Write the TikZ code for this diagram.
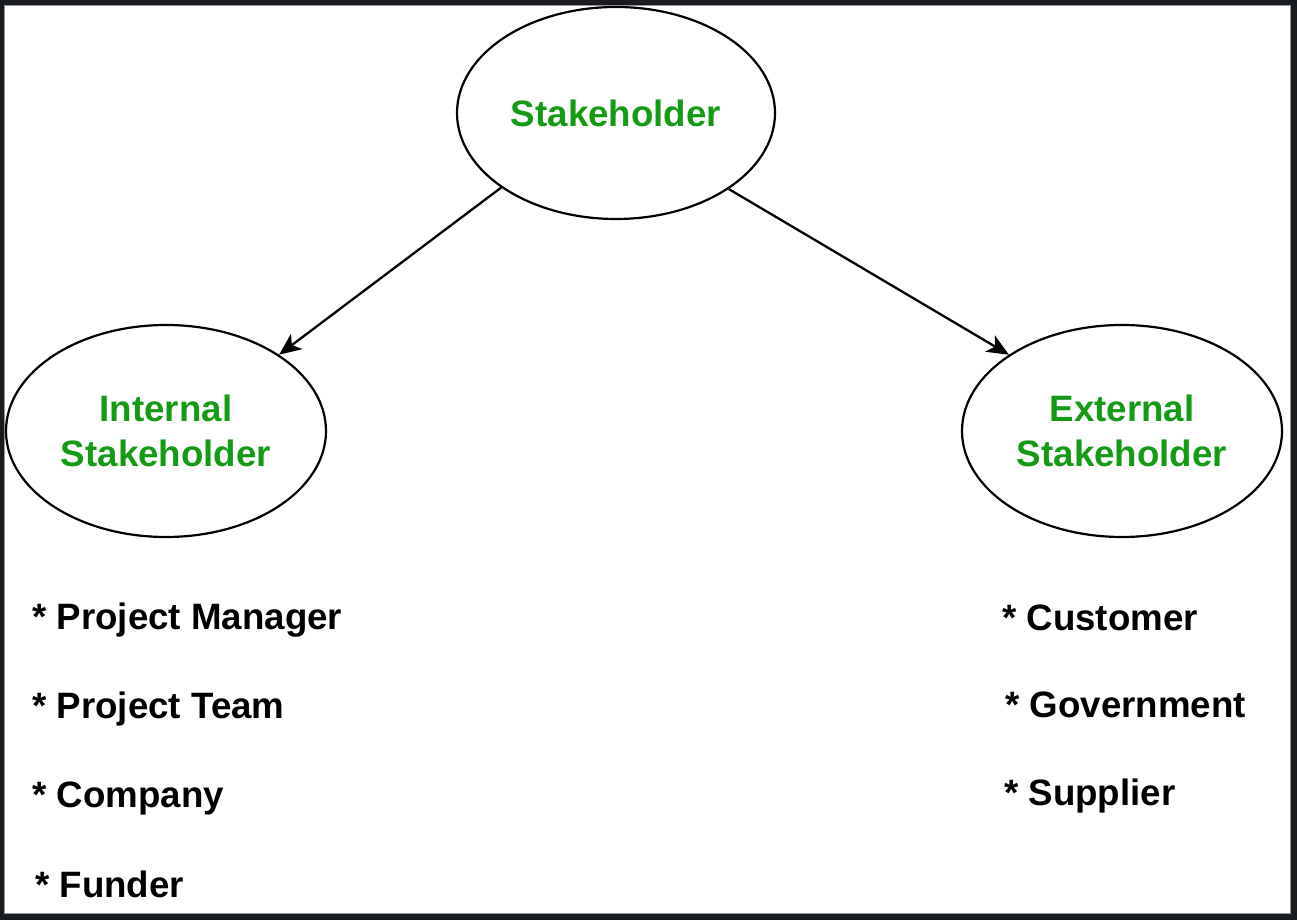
\documentclass[tikz,border=0pt]{standalone}
\usepackage{fontspec}
\setmainfont{Liberation Sans}
\usetikzlibrary{shapes.geometric,arrows.meta}
\definecolor{frame}{RGB}{24,27,31}
\definecolor{rim}{RGB}{150,150,150}
\definecolor{lblgreen}{RGB}{20,155,20}
\tikzset{
  oval/.style={ellipse, draw=black, line width=2.2pt, inner sep=0pt,
    minimum width=320pt, minimum height=212pt, text=lblgreen,
    font=\fontsize{36.7}{45}\selectfont\bfseries, align=center},
  item/.style={anchor=base west, inner sep=0pt, text=black,
    font=\fontsize{36.7}{45}\selectfont\bfseries},
  link/.style={line width=2.3pt, draw=black, -{Stealth[length=22pt,width=19pt,inset=6pt]}}
}
\begin{document}
\begin{tikzpicture}[x=1pt,y=1pt]
\useasboundingbox (0,0) rectangle (1297,920);
\fill[frame] (0,0) rectangle (1297,920);
\fill[white] (4,6) rectangle (1291,915);
\draw[rim, line width=1pt] (4.5,6.5) rectangle (1290.5,914.5);

\node[oval, minimum width=318pt] (s) at (616,807) {Stakeholder};
\node[oval] (int) at (166,489) {Internal\\Stakeholder};
\node[oval] (ext) at (1122,489) {External\\Stakeholder};

\draw[link] (s.213.6) -- (int.34.2);
\draw[link] (s.326.9) -- (ext.146.3);

\node[item] (pm) at (32,290) {* Project Manager};
\node[item] (pt) at (32,201) {* Project Team};
\node[item] (co) at (32,112) {* Company};
\node[item] (fu) at (35,22) {* Funder};

\node[item] (cu) at (1002,289) {* Customer};
\node[item] (go) at (1005,202) {* Government};
\node[item] (su) at (1004,114) {* Supplier};
\end{tikzpicture}
\end{document}
